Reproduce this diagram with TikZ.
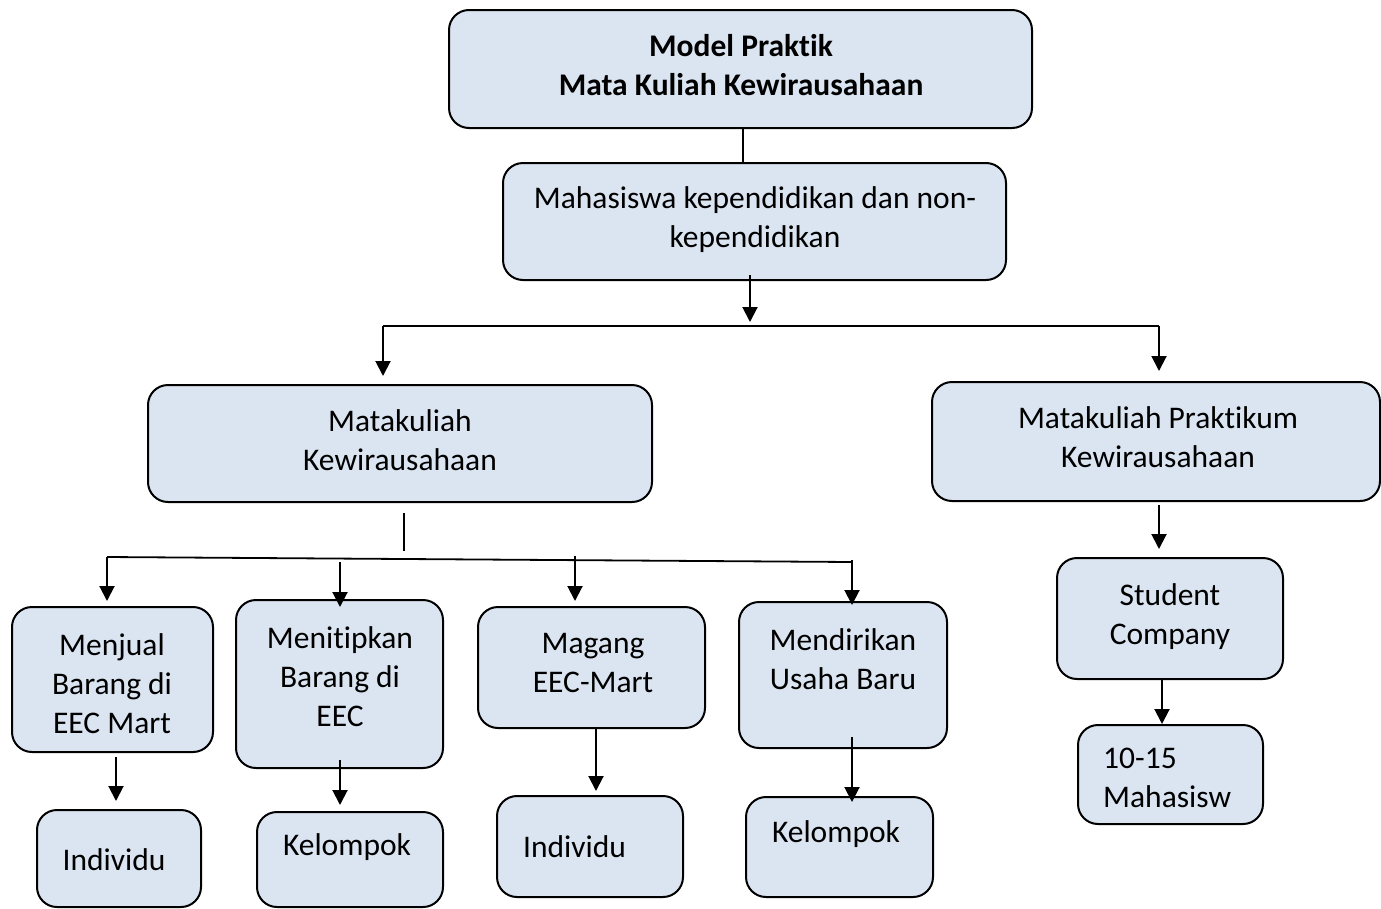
\documentclass[tikz,border=0pt]{standalone}
\usepackage{fontspec}
\setmainfont{Carlito}[Ligatures={NoCommon,NoContextual}]
\usetikzlibrary{arrows.meta}
\definecolor{boxfill}{RGB}{219,229,241}
\tikzset{
  box/.style={draw=black, line width=2pt, fill=boxfill, rounded corners=20pt, inner sep=0pt, outer sep=0pt},
  txt/.style={font=\fontsize{31.5}{39}\selectfont, align=center, inner sep=0pt},
  txtleft/.style={txt, align=left},
  link/.style={line width=1.8pt},
  arrowlink/.style={line width=2pt, -{Triangle[length=15pt,width=15pt]}},
}
% box by its corners: name, left, top, right, bottom
\newcommand\cornerbox[5]{\node[box, anchor=north west, minimum width={#4-#2}, minimum height={#5-#3}] (#1) at (#2,#3) {};}
\begin{document}
\begin{tikzpicture}[x=1pt,y=-1pt]
\useasboundingbox (0,0) rectangle (1381,908);

% boxes
\cornerbox{model}{449}{10}{1032}{128}
\cornerbox{mhs}{503}{163}{1006}{280}
\cornerbox{mk}{148}{385}{652}{502}
\cornerbox{mkp}{932}{382}{1380}{501}
\cornerbox{jual}{12}{607}{213}{752}
\cornerbox{titip}{236}{600}{443}{768}
\cornerbox{magang}{478}{607}{705}{728}
\cornerbox{usaha}{739}{602}{947}{748}
\cornerbox{ind1}{37}{810}{201}{907}
\cornerbox{kel1}{257}{812}{443}{907}
\cornerbox{ind2}{497}{796}{683}{897}
\cornerbox{kel2}{746}{797}{933}{897}
\cornerbox{sc}{1057}{558}{1283}{679}
\cornerbox{jml}{1078}{725}{1263}{824}

% texts (anchored at the baseline of their last line)
\node[txt, anchor=base] (t-model) at (741,95) {\bfseries Model Praktik\\\bfseries Mata Kuliah Kewirausahaan};
\node[txt, anchor=base] (t-mhs) at (755,247) {Mahasiswa kependidikan dan non-\\kependidikan};
\node[txt, anchor=base] (t-mk) at (400,470) {Matakuliah\\Kewirausahaan};
\node[txt, anchor=base] (t-mkp) at (1158,467) {Matakuliah Praktikum\\Kewirausahaan};
\node[txt, anchor=base] (t-jual) at (112,733) {Menjual\\Barang di\\EEC Mart};
\node[txt, anchor=base] (t-titip) at (340,726) {Menitipkan\\Barang di\\EEC};
\node[txt, anchor=base] (t-magang) at (593,692) {Magang\\EEC-Mart};
\node[txt, anchor=base] (t-usaha) at (843,689) {Mendirikan\\Usaha Baru};
\node[txt, anchor=base] (t-ind1) at (114,870) {Individu};
\node[txt, anchor=base] (t-kel1) at (347,855) {Kelompok};
\node[txt, anchor=base west] (t-ind2) at (523,857) {Individu};
\node[txt, anchor=base] (t-kel2) at (836,842) {Kelompok};
\node[txt, anchor=base] (t-sc) at (1170,644) {Student\\Company};
\node[txtleft, anchor=base west] (t-jml) at (1103,807) {10-15\\Mahasisw};

% junction points
\coordinate (mhs-out) at (750,275);
\coordinate (mhs-in) at (750,322);
\coordinate (split-l) at (383,326);
\coordinate (split-r) at (1159,326);
\coordinate (mk-l) at (383,376);
\coordinate (mkp-r) at (1159,371);
\coordinate (mk-out) at (404,513);
\coordinate (mk-in) at (404,551);
\coordinate (bar-l) at (107,557);
\coordinate (bar-r) at (852,562);
\coordinate (a1s) at (107,557);  \coordinate (a1e) at (107,601);
\coordinate (a2s) at (340,562);  \coordinate (a2e) at (340,607);
\coordinate (a3s) at (575,556);  \coordinate (a3e) at (575,601);
\coordinate (a4s) at (852,560);  \coordinate (a4e) at (852,605);
\coordinate (b1s) at (116,757);  \coordinate (b1e) at (116,801);
\coordinate (b2s) at (340,760);  \coordinate (b2e) at (340,805);
\coordinate (b3s) at (596,729);  \coordinate (b3e) at (596,791);
\coordinate (b4s) at (852,737);  \coordinate (b4e) at (852,802);
\coordinate (c1s) at (1159,505); \coordinate (c1e) at (1159,549);
\coordinate (c2s) at (1162,679); \coordinate (c2e) at (1162,724);

% connectors
\draw[link] (model.south -| 743,0) -- (mhs.north -| 743,0);
\draw[arrowlink] (mhs-out) -- (mhs-in);
\draw[link] (split-l) -- (split-r);
\draw[arrowlink] (split-l) -- (mk-l);
\draw[arrowlink] (split-r) -- (mkp-r);
\draw[link] (mk-out) -- (mk-in);
\draw[link] (bar-l) -- (bar-r);
\draw[arrowlink] (a1s) -- (a1e);
\draw[arrowlink] (a2s) -- (a2e);
\draw[arrowlink] (a3s) -- (a3e);
\draw[arrowlink] (a4s) -- (a4e);
\draw[arrowlink] (b1s) -- (b1e);
\draw[arrowlink] (b2s) -- (b2e);
\draw[arrowlink] (b3s) -- (b3e);
\draw[arrowlink] (b4s) -- (b4e);
\draw[arrowlink] (c1s) -- (c1e);
\draw[arrowlink] (c2s) -- (c2e);
\end{tikzpicture}
\end{document}
